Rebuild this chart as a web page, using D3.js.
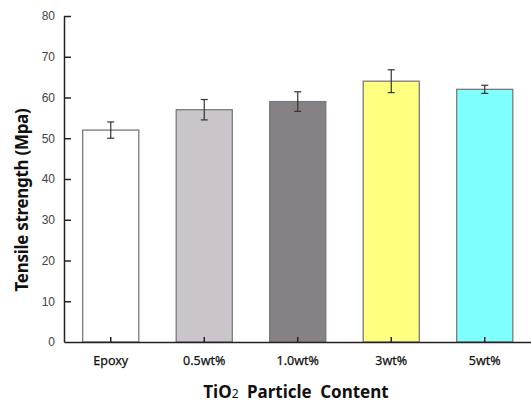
<!DOCTYPE html>
<html>
<head>
<meta charset="utf-8">
<script src="https://cdn.jsdelivr.net/npm/d3@7"></script>
<style>
  body { margin: 0; background: #fff; }
  svg { display: block; }
</style>
</head>
<body>
<div id="chart"></div>
<script>
var categories = ['Epoxy', '0.5wt%', '1.0wt%', '3wt%', '5wt%'];
var strength = [52, 57, 59, 64, 62];
var errors = [2, 2.5, 2.4, 2.8, 1];
var barColors = ['#ffffff', '#cbc5cb', '#868185', '#ffff80', '#80ffff'];
var yTicks = [0, 10, 20, 30, 40, 50, 60, 70, 80];

var width = 531, height = 403;
var plotLeft = 64, plotRight = 531, plotTop = 16, plotBottom = 342;

var svg = d3.select('#chart').append('svg')
  .attr('width', width)
  .attr('height', height);

var x = d3.scaleBand()
  .domain(categories)
  .range([plotLeft, plotRight + 0.5])
  .paddingInner(0.4)
  .paddingOuter(0.2);

var y = d3.scaleLinear()
  .domain([0, 80])
  .range([plotBottom, plotTop]);

// bars
svg.selectAll('rect.bar')
  .data(categories)
  .enter().append('rect')
  .attr('class', 'bar')
  .attr('x', function (d) { return x(d); })
  .attr('y', function (d, i) { return y(strength[i]); })
  .attr('width', x.bandwidth())
  .attr('height', function (d, i) { return y(0) - y(strength[i]); })
  .attr('fill', function (d, i) { return barColors[i]; })
  .attr('stroke', '#7a7a7a')
  .attr('stroke-width', 1.3);

// error bars
var eb = svg.selectAll('g.err')
  .data(categories)
  .enter().append('g')
  .attr('class', 'err')
  .attr('stroke', '#333')
  .attr('stroke-width', 1.2);
eb.append('line')
  .attr('x1', function (d) { return x(d) + x.bandwidth() / 2; })
  .attr('x2', function (d) { return x(d) + x.bandwidth() / 2; })
  .attr('y1', function (d, i) { return y(strength[i] + errors[i]); })
  .attr('y2', function (d, i) { return y(strength[i] - errors[i]); });
[1, -1].forEach(function (s) {
  eb.append('line')
    .attr('x1', function (d) { return x(d) + x.bandwidth() / 2 - 3.5; })
    .attr('x2', function (d) { return x(d) + x.bandwidth() / 2 + 3.5; })
    .attr('y1', function (d, i) { return y(strength[i] + s * errors[i]); })
    .attr('y2', function (d, i) { return y(strength[i] + s * errors[i]); });
});

// y axis
var yAxis = svg.append('g')
  .attr('transform', 'translate(' + plotLeft + ',0)')
  .call(d3.axisLeft(y).tickValues(yTicks).tickSizeInner(-7).tickSizeOuter(0).tickPadding(9));
yAxis.select('.domain').attr('stroke', '#222').attr('stroke-width', 1.5);
yAxis.selectAll('.tick line').attr('stroke', '#222').attr('stroke-width', 1.5);
yAxis.selectAll('.tick text')
  .attr('fill', '#444')
  .style('font-family', 'Arial, "Liberation Sans", sans-serif')
  .style('font-size', '12px');
yAxis.selectAll('.tick').filter(function (d) { return d === 0; }).select('line').remove();

// x axis
var xAxis = svg.append('g')
  .attr('transform', 'translate(0,' + plotBottom + ')')
  .call(d3.axisBottom(x).tickSizeInner(-5).tickSizeOuter(0).tickPadding(14));
xAxis.select('.domain').attr('stroke', '#222').attr('stroke-width', 1.5);
xAxis.selectAll('.tick line').attr('stroke', '#222').attr('stroke-width', 1.5);
xAxis.selectAll('.tick text')
  .attr('fill', '#111')
  .style('font-family', '"Noto Sans", "Open Sans", sans-serif')
  .style('font-size', '12.5px')
  .style('stroke', '#111')
  .style('stroke-width', '0.25px');

// titles
svg.append('text')
  .attr('transform', 'translate(28,200) rotate(-90)')
  .attr('text-anchor', 'middle')
  .style('font-family', '"Noto Sans", "Open Sans", sans-serif')
  .style('font-weight', 'bold')
  .style('font-size', '17px')
  .style('letter-spacing', '-0.3px')
  .attr('fill', '#111')
  .text('Tensile strength (Mpa)');

var xt = svg.append('text')
  .attr('x', 296)
  .attr('y', 398)
  .attr('text-anchor', 'middle')
  .style('font-family', '"Noto Sans", "Open Sans", sans-serif')
  .style('font-weight', 'bold')
  .style('font-size', '17px')
  .style('word-spacing', '4px')
  .attr('fill', '#111');
xt.append('tspan').text('TiO');
xt.append('tspan').style('font-size', '12px').style('font-weight', 'normal').text('2');
xt.append('tspan').text(' Particle Content');
</script>
</body>
</html>
